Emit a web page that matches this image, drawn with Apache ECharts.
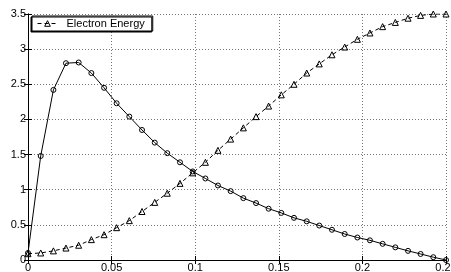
<!DOCTYPE html>
<html>
<head>
<meta charset="utf-8">
<script src="https://cdn.jsdelivr.net/npm/echarts@6/dist/echarts.min.js"></script>
<style>
  html, body { margin: 0; padding: 0; background: #fff; }
  #chart { width: 451px; height: 272px; }
</style>
</head>
<body>
<div id="chart"></div>
<script>
// x positions of the samples (same for both curves)
var xValues = [0, 0.0076, 0.0152, 0.0227, 0.0303, 0.0379, 0.0455, 0.0530, 0.0606, 0.0682,
    0.0758, 0.0833, 0.0909, 0.0985, 0.1061, 0.1136, 0.1212, 0.1288, 0.1364, 0.1439,
    0.1515, 0.1591, 0.1667, 0.1742, 0.1818, 0.1894, 0.1970, 0.2045, 0.2121, 0.2197,
    0.2273, 0.2348, 0.2424, 0.25];

// solid curve with circles
var circleValues = [0.10, 1.48, 2.42, 2.80, 2.81, 2.66, 2.45, 2.23, 2.04, 1.85,
    1.67, 1.52, 1.39, 1.26, 1.16, 1.06, 0.98, 0.88, 0.81, 0.73,
    0.67, 0.60, 0.55, 0.49, 0.43, 0.37, 0.32, 0.28, 0.23, 0.18,
    0.13, 0.086, 0.04, 0.0];

// dashed curve with triangles
var energyName = 'Electron Energy';
var energyValues = [0.09, 0.10, 0.13, 0.17, 0.21, 0.29, 0.36, 0.46, 0.56, 0.69,
    0.82, 0.95, 1.09, 1.24, 1.39, 1.56, 1.72, 1.88, 2.04, 2.19,
    2.35, 2.50, 2.66, 2.79, 2.92, 3.03, 3.14, 3.23, 3.32, 3.38,
    3.44, 3.48, 3.50, 3.50];

var xTicks = { min: 0, max: 0.25, interval: 0.05 };
var yTicks = { min: 0, max: 3.5, interval: 0.5 };

function pairs(xs, ys) {
    return xs.map(function (x, i) { return [x, ys[i]]; });
}

var font = "'Liberation Sans', Arial, Helvetica, sans-serif";
var gridDots = { show: true, lineStyle: { color: '#777', type: [1, 2], width: 1 } };

var myChart = echarts.init(document.getElementById('chart'));

var option = {
    animation: false,
    textStyle: { fontFamily: font },
    grid: { left: 28, right: 5, top: 14, bottom: 12, outerBoundsMode: 'none', containLabel: false },
    legend: {
        data: [energyName],
        left: 32,
        top: 16,
        padding: [2, 8, 2, 5],
        itemWidth: 20,
        itemHeight: 7,
        backgroundColor: '#fff',
        borderColor: '#000',
        borderWidth: 1,
        shadowColor: '#000',
        shadowOffsetX: -1,
        shadowOffsetY: 1,
        itemStyle: { color: 'rgba(0,0,0,0)', borderColor: '#000', borderWidth: 1 },
        lineStyle: { width: 1 },
        textStyle: { fontSize: 11, color: '#000', fontFamily: font, padding: [0, 0, 0, 4] }
    },
    xAxis: [
        {
            type: 'value',
            min: xTicks.min,
            max: xTicks.max,
            interval: xTicks.interval,
            axisLine: { lineStyle: { color: '#000', width: 1 } },
            axisTick: { inside: true, length: 4, lineStyle: { color: '#000' } },
            axisLabel: { margin: 2, fontSize: 11, color: '#000', fontFamily: font },
            splitLine: gridDots
        },
        {
            type: 'value',
            position: 'top',
            min: xTicks.min,
            max: xTicks.max,
            interval: xTicks.interval,
            axisLine: { lineStyle: { color: '#000', width: 1 } },
            axisTick: { inside: true, length: 4, lineStyle: { color: '#000' } },
            axisLabel: { show: false },
            splitLine: { show: false }
        }
    ],
    yAxis: [
        {
            type: 'value',
            min: yTicks.min,
            max: yTicks.max,
            interval: yTicks.interval,
            axisLine: { show: true, lineStyle: { color: '#000', width: 1 } },
            axisTick: { show: true, inside: true, length: 4, lineStyle: { color: '#000' } },
            axisLabel: { margin: 2, fontSize: 11, color: '#000', fontFamily: font },
            splitLine: gridDots
        },
        {
            type: 'value',
            position: 'right',
            min: yTicks.min,
            max: yTicks.max,
            interval: yTicks.interval,
            axisLine: { show: true, lineStyle: { color: '#000', width: 1 } },
            axisTick: { show: true, inside: true, length: 4, lineStyle: { color: '#000' } },
            axisLabel: { show: false },
            splitLine: { show: false }
        }
    ],
    series: [
        {
            name: 'circles',
            type: 'line',
            data: pairs(xValues, circleValues),
            symbol: 'circle',
            symbolSize: 5,
            lineStyle: { color: '#000', width: 1 },
            itemStyle: { color: 'rgba(0,0,0,0)', borderColor: '#000', borderWidth: 1 }
        },
        {
            name: energyName,
            type: 'line',
            data: pairs(xValues, energyValues),
            symbol: 'triangle',
            symbolSize: 6,
            lineStyle: { color: '#000', width: 1, type: [4, 3] },
            itemStyle: { color: 'rgba(0,0,0,0)', borderColor: '#000', borderWidth: 1 }
        }
    ]
};

myChart.setOption(option);
</script>
</body>
</html>
